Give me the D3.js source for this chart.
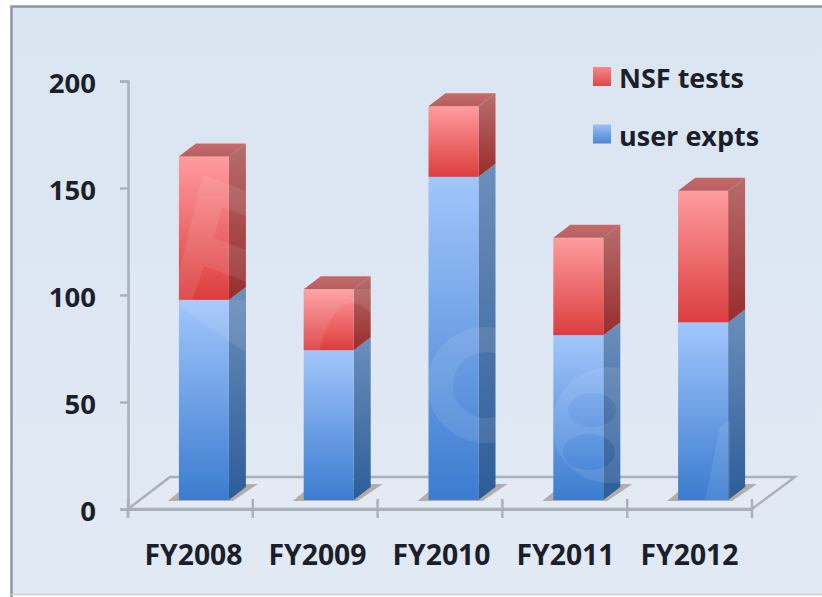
<!DOCTYPE html>
<html>
<head>
<meta charset="utf-8">
<script src="https://cdn.jsdelivr.net/npm/d3@7/dist/d3.min.js"></script>
<style>
html,body{margin:0;padding:0;background:#fff}
svg{display:block}
text{font-family:"Open Sans","Noto Sans",sans-serif;font-weight:700;fill:#1b1f2a}
</style>
</head>
<body>
<svg id="chart" width="822" height="597"></svg>
<script>
const categories = ["FY2008","FY2009","FY2010","FY2011","FY2012"];
const userExpts = [93.5, 70, 151, 77, 83];
const nsfTests = [67, 28.5, 33, 45.5, 61.5];
const yTicks = [0,50,100,150,200];
const legendLabels = ["NSF tests","user expts"];

const svg = d3.select("#chart");
const defs = svg.append("defs");

function vGrad(id, top, bottom){
  const g = defs.append("linearGradient").attr("id",id).attr("x1",0).attr("x2",0).attr("y1",0).attr("y2",1);
  g.append("stop").attr("offset","0%").attr("stop-color",top);
  g.append("stop").attr("offset","100%").attr("stop-color",bottom);
}
vGrad("panelFill","#dae5f2","#e1e9f4");
vGrad("blueFront","#a2c6fc","#3b7ccf");
vGrad("blueSide","#6d8fbb","#2c5d99");
vGrad("redFront","#ff9c9e","#dc3d3e");
vGrad("redSide","#b86d6d","#992c2c");
vGrad("redTop","#c46a6a","#b75f60");
vGrad("blueLegend","#9cc0f3","#4a86d6");
vGrad("redLegend","#f98688","#dc4a48");

// panel with its grey frame on the top and left edges
svg.append("rect").attr("x",11).attr("y",7).attr("width",811).attr("height",587).attr("fill","url(#panelFill)");
svg.append("path").attr("d","M822,6.5H11.5V597").attr("fill","none").attr("stroke","#8e969e").attr("stroke-width",2.5);
svg.append("path").attr("d","M11,594.5H822").attr("fill","none").attr("stroke","#c9ced4").attr("stroke-width",1.5);

const y = d3.scaleLinear().domain([0,200]).range([509,81]);
const xAxisStart = 128, xAxisEnd = 752;
const x = d3.scaleBand().domain(categories).range([xAxisStart,xAxisEnd]);
const xLabel = d3.scalePoint().domain(categories).range([193.5,689.5]);

// bars stand on a plane set slightly behind the axis, and recede up and to the right
const plane = -9, depthX = 17, depthY = -13;
const barW = 50;
const axisColor = "#a9b0b8";

// floor of the plot
const floorBack = y(0) - 32;
svg.append("path")
  .attr("d",d3.line()([[xAxisStart,y(0)],[xAxisStart+42,floorBack],[xAxisEnd+43,floorBack],[xAxisEnd,y(0)]])+"Z")
  .attr("fill","#e4ebf4").attr("fill-opacity",.6)
  .attr("stroke",axisColor).attr("stroke-width",2.4);

// y axis
const yAxis = d3.axisLeft(y).tickValues(yTicks).tickSize(8).tickPadding(24);
const yG = svg.append("g").attr("transform",`translate(${xAxisStart},0)`).call(yAxis);
yG.select(".domain").attr("stroke",axisColor).attr("stroke-width",2.6);
yG.selectAll(".tick line").attr("stroke",axisColor).attr("stroke-width",2.4);
yG.selectAll("text").attr("font-size",27.5).attr("y",3);
svg.append("line").attr("x1",xAxisStart).attr("x2",xAxisStart).attr("y1",y(0)).attr("y2",518).attr("stroke",axisColor).attr("stroke-width",2.6);

// x axis with tick marks between the categories
const xG = svg.append("g");
xG.append("line").attr("x1",xAxisStart).attr("x2",xAxisEnd).attr("y1",y(0)+.5).attr("y2",y(0)+.5).attr("stroke",axisColor).attr("stroke-width",2.8);
const xEdges = categories.map(c=>x(c)).concat(xAxisEnd);
xG.selectAll("line.tick").data(xEdges).join("line").attr("class","tick")
  .attr("x1",d=>d).attr("x2",d=>d).attr("y1",499).attr("y2",518)
  .attr("stroke",axisColor).attr("stroke-width",2.4);
xG.selectAll("text").data(categories).join("text")
  .attr("x",d=>xLabel(d)).attr("y",565).attr("text-anchor","middle").attr("font-size",28.5)
  .attr("textLength",98).attr("lengthAdjust","spacingAndGlyphs").text(d=>d);

const barX = d => x(d)+x.bandwidth()/2 - barW/2 + 13.5;
const rows = categories.map((c,i)=>({c,u:userExpts[i],n:nsfTests[i]}));
const poly = pts => d3.line()(pts)+"Z";

// soft contact shadow under every bar
svg.selectAll("path.shadow").data(rows).join("path").attr("class","shadow")
  .attr("d",d=>{const a=barX(d.c),r=a+barW,b=y(0)+plane;return poly([[a-11,b+1],[r+4,b+1],[r+29,b-16],[r,b-16],[a,b-8]]);})
  .attr("fill","#a8a29e").attr("opacity",.85);

// one stacked 3D column per fiscal year
const clip = defs.append("clipPath").attr("id","barClip");
const bars = svg.selectAll("g.bar").data(rows).join("g").attr("class","bar");
bars.each(function(d){
  const g = d3.select(this), a = barX(d.c), b = a+barW;
  const y0 = y(0)+plane, y1 = y(d.u)+plane, y2 = y(d.u+d.n)+plane;
  g.append("path").attr("d",poly([[b,y0],[b+depthX,y0+depthY],[b+depthX,y1+depthY],[b,y1]])).attr("fill","url(#blueSide)");
  g.append("rect").attr("x",a).attr("y",y1).attr("width",barW).attr("height",y0-y1).attr("fill","url(#blueFront)");
  g.append("path").attr("d",poly([[b,y1],[b+depthX,y1+depthY],[b+depthX,y2+depthY],[b,y2]])).attr("fill","url(#redSide)");
  g.append("rect").attr("x",a).attr("y",y2).attr("width",barW).attr("height",y1-y2).attr("fill","url(#redFront)");
  g.append("path").attr("d",poly([[a,y2],[a+depthX,y2+depthY],[b+depthX,y2+depthY],[b,y2]])).attr("fill","url(#redTop)");
  clip.append("path").attr("d",poly([[a,y0],[b,y0],[b+depthX,y0+depthY],[b+depthX,y2+depthY],[a+depthX,y2+depthY],[a,y2]]));
});

// translucent sheen across the columns, kept inside their outlines
const sheen = svg.append("g").attr("clip-path","url(#barClip)").attr("fill","#fff").attr("fill-opacity",.09);
sheen.append("path").attr("fill-rule","evenodd")
  .attr("d","M203,175L262,197V222L222,207L214,238L262,256V288L204,266L192,300H172Z");
sheen.append("path").attr("fill-rule","evenodd")
  .attr("d","M427,385a58,58 0 1,1 116,0a58,58 0 1,1 -116,0ZM453,385a33,33 0 1,0 66,0a33,33 0 1,0 -66,0Z");
sheen.append("path").attr("fill-rule","evenodd")
  .attr("d","M552,425a58,58 0 1,1 116,0a58,58 0 1,1 -116,0ZM568,410a24,17 0 1,0 48,0a24,17 0 1,0 -48,0ZM563,452a26,18 0 1,0 52,0a26,18 0 1,0 -52,0Z");
sheen.append("path").attr("d","M304,289H372V315C360,300 345,300 338,310C328,320 322,340 320,350H304Z");
sheen.append("path").attr("d","M705,500L720,427L730,420V500Z");
sheen.append("path").attr("d","M180,307L245,352V300L180,300Z");

// legend
const legend = svg.selectAll("g.legend").data(legendLabels).join("g").attr("class","legend")
  .attr("transform",(d,i)=>`translate(593,${67+i*57.5})`);
legend.append("rect").attr("width",18).attr("height",19).attr("fill",(d,i)=>i?"url(#blueLegend)":"url(#redLegend)");
legend.append("text").attr("x",26).attr("y",21).attr("font-size",27).text(d=>d);
</script>
</body>
</html>
